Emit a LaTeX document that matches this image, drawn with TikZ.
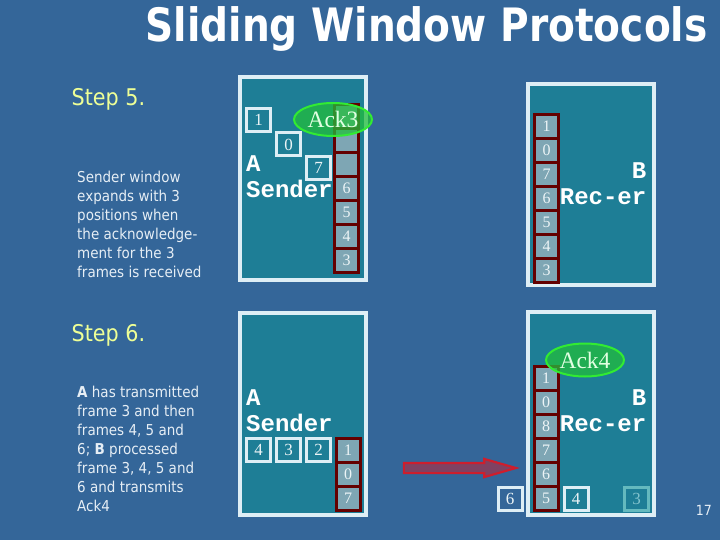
\documentclass[tikz,border=0pt]{standalone}
\usepackage{fontspec}
\setmainfont{Liberation Serif}
\newfontfamily\slidefont[FakeStretch=0.9]{DejaVu Sans}
\newfontfamily\headfont[FakeStretch=0.85]{DejaVu Sans}
\newfontfamily\stationfont{Liberation Mono}
\usetikzlibrary{positioning, shapes.geometric, shapes.arrows}

\definecolor{slidebg}{RGB}{52,102,153}
\definecolor{panelfill}{RGB}{30,126,150}
\definecolor{panelline}{RGB}{222,238,245}
\definecolor{cellfill}{RGB}{126,166,180}
\definecolor{cellline}{RGB}{100,0,0}
\definecolor{celltext}{RGB}{236,244,246}
\definecolor{fadeline}{RGB}{100,185,190}
\definecolor{fadetext}{RGB}{130,195,205}
\definecolor{ackfill}{RGB}{34,190,60}
\definecolor{ackline}{RGB}{50,235,50}
\definecolor{acktext}{RGB}{225,255,225}
\definecolor{steptext}{RGB}{238,255,150}
\definecolor{notetext}{RGB}{230,238,245}
\definecolor{arrowred}{RGB}{205,30,45}

\tikzset{
	panel/.style={draw=panelline, fill=panelfill, line width=4pt, minimum width=126pt, inner sep=0pt},
	cell/.style={draw=cellline, fill=cellfill, line width=3pt, minimum width=24pt, minimum height=24pt,
		inner sep=0pt, outer sep=0pt, text=celltext, font=\fontsize{16}{16}\selectfont},
	frame/.style={draw=panelline, line width=3pt, minimum width=24pt, minimum height=23pt,
		inner sep=0pt, text=celltext, font=\fontsize{17}{17}\selectfont},
	ack/.style={ellipse, draw=ackline, fill=ackfill, fill opacity=0.75, text opacity=1, line width=2pt,
		minimum width=78pt, minimum height=33pt, inner sep=0pt, text=acktext, font=\fontsize{23.5}{23.5}\selectfont},
	station/.style={inner sep=0pt, text=white, font=\stationfont\bfseries\fontsize{24}{24}\selectfont},
	steplabel/.style={inner sep=0pt, anchor=base west, text=steptext, font=\slidefont\fontsize{23}{23}\selectfont},
	note/.style={inner sep=0pt, anchor=north west, align=left, text=notetext, font=\slidefont\fontsize{15}{19}\selectfont},
}

\begin{document}
\begin{tikzpicture}[x=1pt, y=-1pt]

	\fill[slidebg] (0,0) rectangle (720,540);
	\useasboundingbox (0,0) rectangle (720,540);

	% title
	\node[anchor=base west, inner sep=0pt, text=white, font=\headfont\bfseries\fontsize{46}{46}\selectfont]
		(title) at (145.5,42) {Sliding Window Protocols};

	% step 5
	\node[steplabel] (step5) at (71.5,106) {Step 5.};
	\node[note] (note5) at (77,170.5) {Sender window\\expands with 3\\positions when\\the acknowledge-\\ment for the 3\\frames is received};

	\node[panel, minimum height=203pt] (sender5) at (303,178.5) {};
	\node[panel, minimum height=201pt] (receiver5) at (591,184.5) {};

	\node[frame] (out1) at (258.5,120) {1};
	\node[frame] (out0) at (288.5,144.5) {0};
	\node[frame] (out7) at (318.5,168) {7};

	\foreach \lbl [count=\i] in {{},{},{},6,5,4,3}
		\node[cell] (sndwin\i) at (346.5,92.5+24*\i) {\lbl};
	\foreach \lbl [count=\i] in {1,0,7,6,5,4,3}
		\node[cell] (rcvwin\i) at (546.5,102.5+24*\i) {\lbl};

	\node[ack] (ack3) at (333,119.5) {Ack3};

	\node[station, anchor=base west] (nameA5) at (246,171.7) {A};
	\node[station, below=26pt of nameA5.base west, anchor=base west] (roleA5) {Sender};
	\node[station, anchor=base east] (nameB5) at (646.5,178.3) {B};
	\node[station, below=26pt of nameB5.base east, anchor=base east] (roleB5) {Rec-er};

	% step 6
	\node[steplabel] (step6) at (71.5,341) {Step 6.};
	\node[note] (note6) at (77,385.6) {\textbf{A} has transmitted\\frame 3 and then\\frames 4, 5 and\\6; \textbf{B} processed\\frame 3, 4, 5 and\\6 and transmits\\Ack4};

	\node[panel, minimum height=202pt] (sender6) at (303,414) {};
	\node[panel, minimum height=203pt] (receiver6) at (591,413.5) {};

	\node[frame] (out4) at (258.5,450) {4};
	\node[frame] (out3) at (288.5,450) {3};
	\node[frame] (out2) at (318.5,450) {2};

	\foreach \lbl [count=\i] in {1,0,7}
		\node[cell] (sndwin6\i) at (348,426.5+24*\i) {\lbl};
	\foreach \lbl [count=\i] in {1,0,8,7,6,5}
		\node[cell] (rcvwin6\i) at (546,354.5+24*\i) {\lbl};

	\node[ack] (ack4) at (585,360) {Ack4};

	\node[station, anchor=base west] (nameA6) at (246,405.7) {A};
	\node[station, below=26pt of nameA6.base west, anchor=base west] (roleA6) {Sender};
	\node[station, anchor=base east] (nameB6) at (646.5,405) {B};
	\node[station, below=26pt of nameB6.base east, anchor=base east] (roleB6) {Rec-er};

	\node[frame] (in6) at (510,498.5) {6};
	\node[frame] (in4) at (576,498.5) {4};
	\node[frame, draw=fadeline, text=fadetext] (in3) at (636.5,498.5) {3};

	\node[single arrow, draw=arrowred, fill=arrowred, fill opacity=0.5, line width=2.2pt,
		minimum height=112pt, inner sep=4pt, single arrow head extend=4pt, single arrow tip angle=32]
		(sendarrow) at (451,468) {};

	\node[anchor=base east, inner sep=0pt, text=notetext, font=\slidefont\fontsize{14}{14}\selectfont]
		(pageno) at (712,515) {17};

\end{tikzpicture}
\end{document}
